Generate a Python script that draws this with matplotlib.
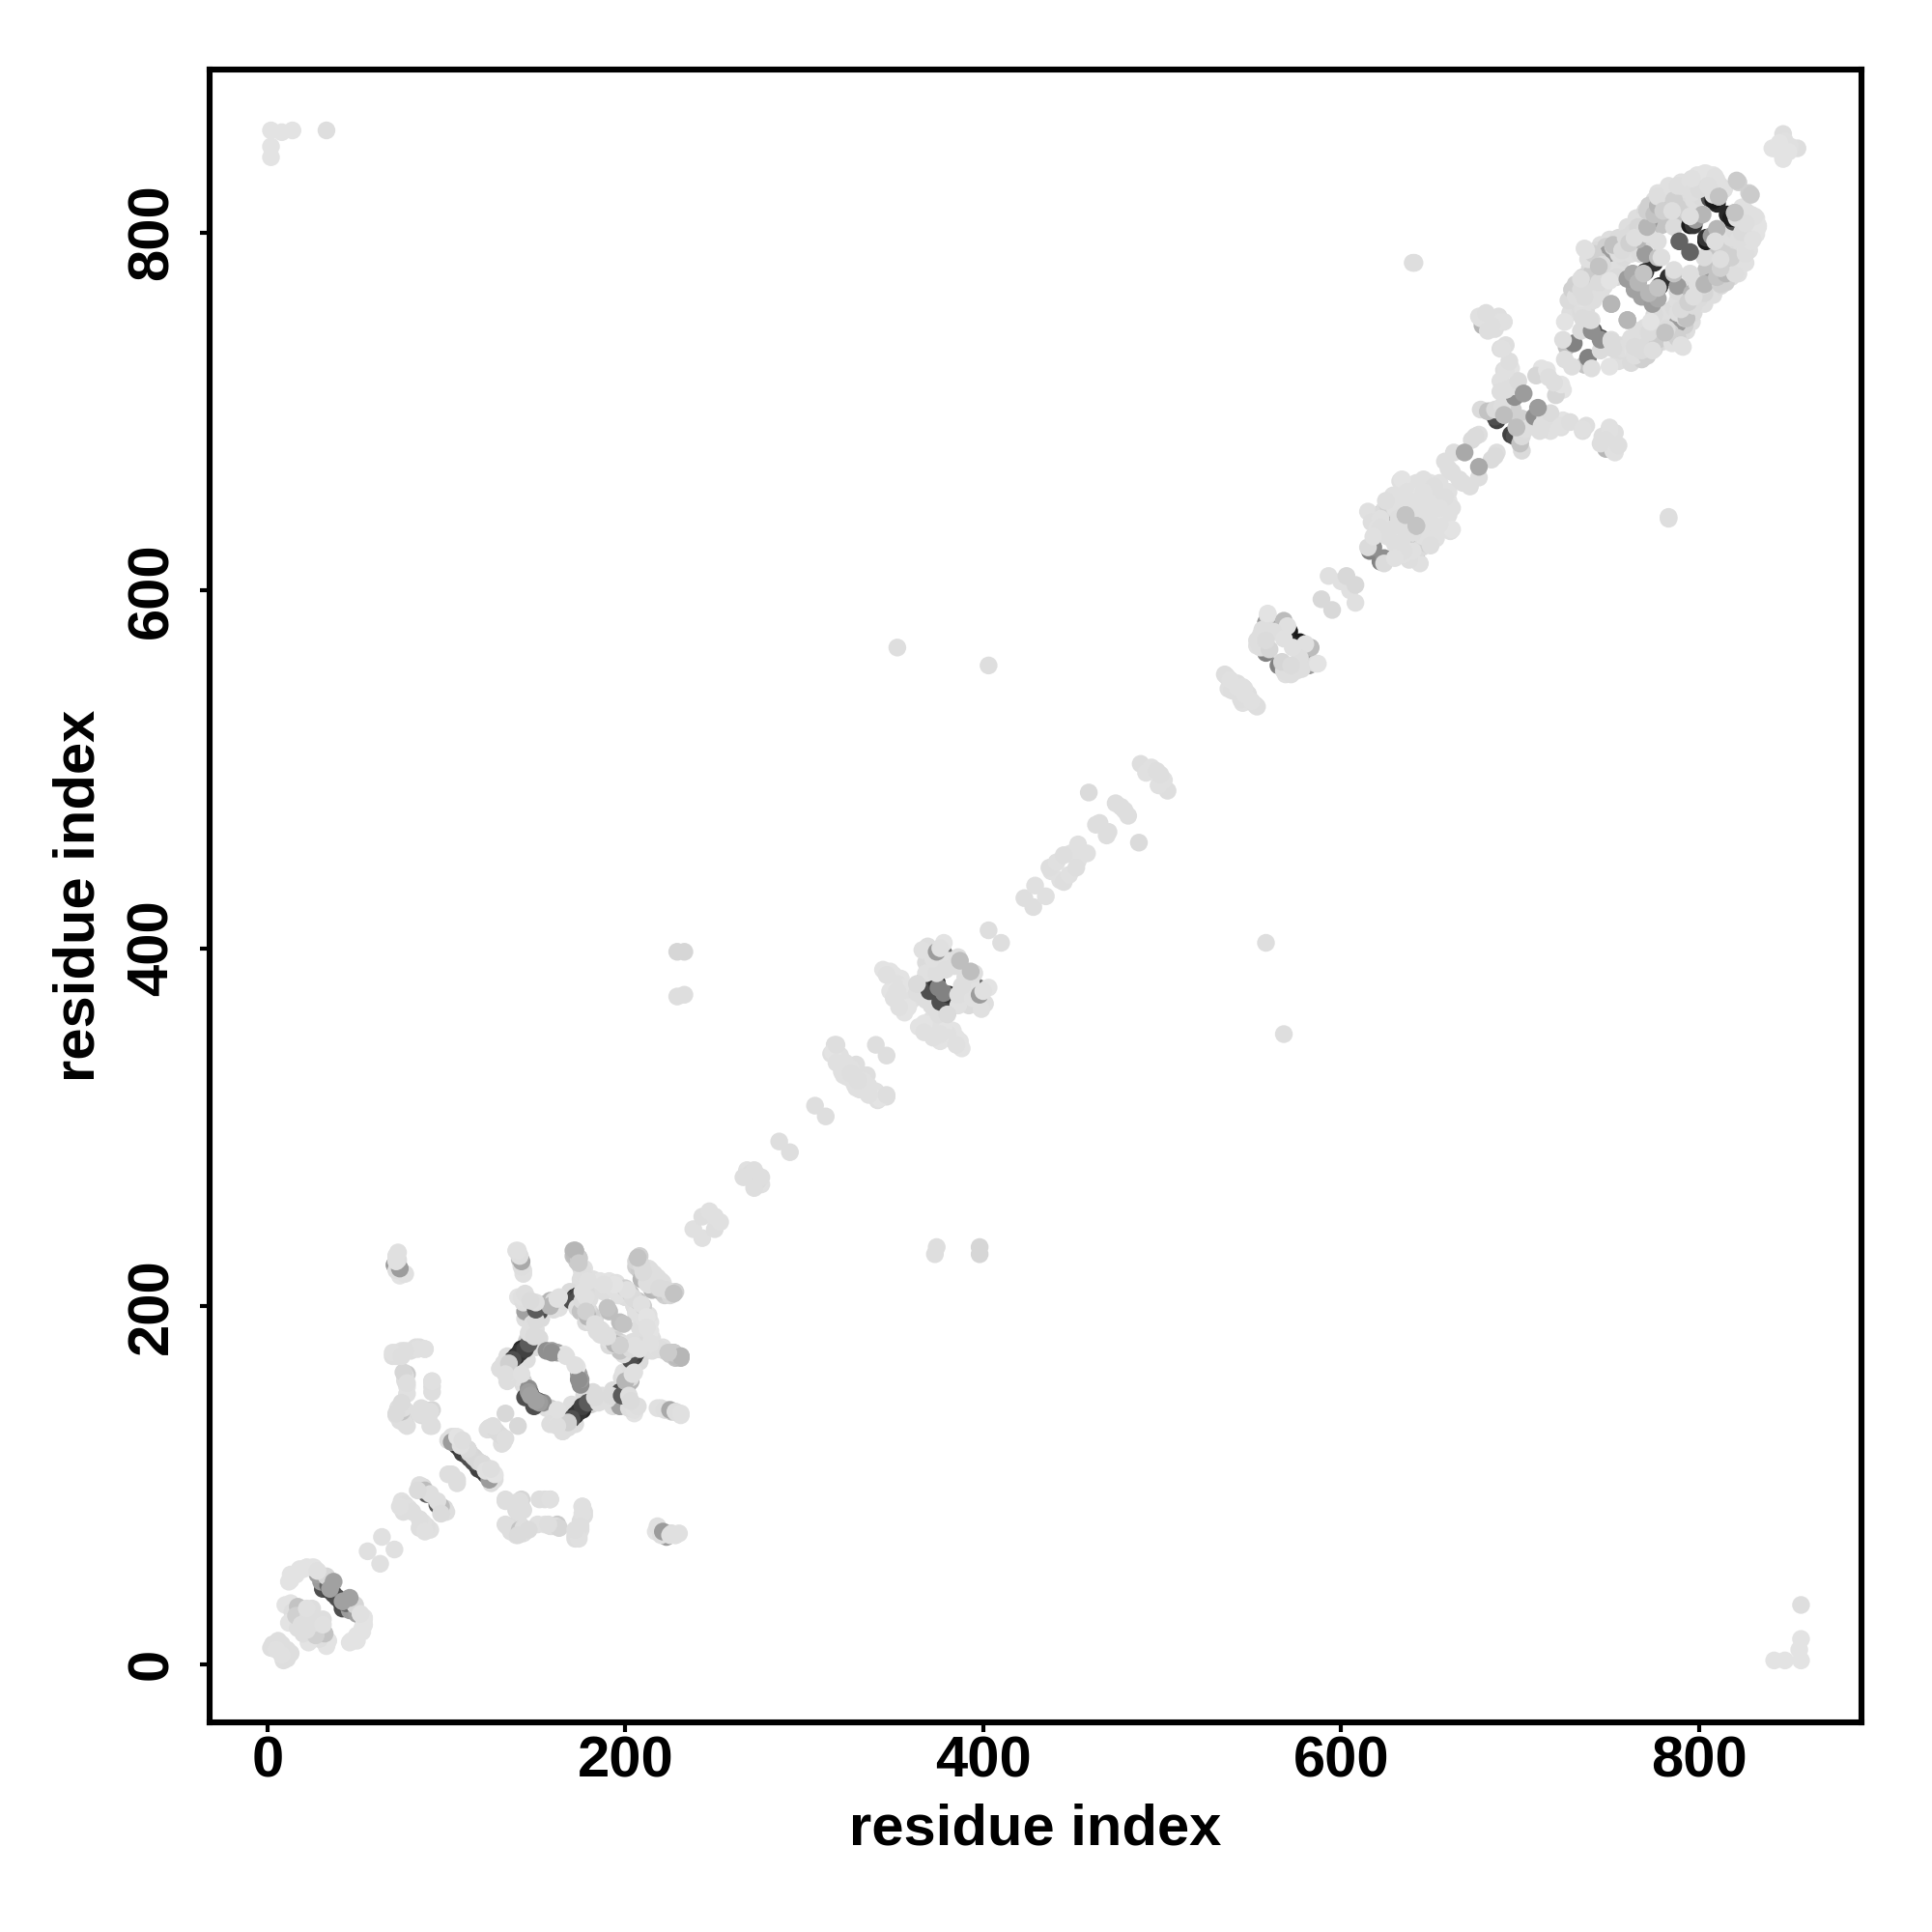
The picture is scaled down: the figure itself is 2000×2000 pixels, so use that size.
import matplotlib
matplotlib.use("Agg")
import matplotlib.pyplot as plt
import numpy as np

# contacts as (residue i, residue j, grey), the map is symmetric
# list order is drawing order, darker discs go first so they show as crescents
corners = [(2, 842, .87), (2, 848, .87), (2, 857, .87), (8, 856, .87), (14, 857, .87), (33, 857, .85)]
outliers = [(352, 568, .85), (403, 558, .85), (641, 783, .85), (640, 783, .85),
            (229, 398, .82), (233, 398, .82), (229, 373, .85), (233, 374, .85)]

n_term = [(2, 9, .85), (6, 13, .85), (3, 11, .85), (8, 11, .85), (5, 8, .86),
          (31, 42, .3), (35, 41, .25), (37, 39, .3), (30, 46, .6), (34, 44, .4), (28, 50, .62),
          (13, 50, .87), (12, 46, .87), (18, 53, .87), (22, 54, .87), (26, 54, .87), (33, 49, .82),
          (37, 46, .62), (42, 35, .62),
          (10, 33, .87), (13, 34, .87), (14, 29, .85), (17, 32, .75), (21, 28, .86), (15, 24, .85),
          (18, 25, .85), (23, 26, .8), (12, 23, .87), (25, 31, .85), (20, 17, .85), (16, 27, .8),
          (19, 22, .85), (27, 23, .85), (22, 31, .86),
          (54, 25, .87), (53, 20, .87), (50, 16, .87), (47, 13, .87), (54, 22, .87), (52, 28, .86),
          (56, 63, .86), (64, 71, .86)]

loop_80 = [(75, 91, .86), (77, 89, .85), (79, 87, .86), (76, 85, .85), (81, 85, .85), (74, 88, .86),
           (89, 95, .35), (87, 99, .84), (85, 100, .85), (88, 97, .72), (91, 95, .85), (84, 97, .84),
           (101, 106, .85), (103, 106, .85),
           (101, 125, .85), (105, 127, .85), (103, 127, .85), (107, 124, .82),
           (106, 122, .25), (108, 120, .2), (109, 118, .25), (103, 124, .6), (111, 117, .25), (113, 115, .3),
           (112, 120, .72), (110, 122, .85),
           (113, 118, .82), (115, 116, .82), (124, 132, .85), (123, 131, .85), (128, 130, .84), (133, 140, .83),
           (126, 133, .85), (118, 113, .83), (120, 112, .84), (122, 108, .86), (127, 106, .87),
           (125, 109, .85)]

side_70 = [(70, 172, .85), (72, 174, .87), (75, 175, .86), (85, 177, .85), (88, 176, .85), (78, 162, .78),
           (80, 175, .85), (72, 172, .85), (83, 177, .85), (77, 159, .84),
           (78, 155, .87), (77, 158, .85), (92, 158, .82), (92, 155, .85), (74, 137, .85),
           (72, 139, .86), (76, 142, .75), (78, 133, .85), (77, 138, .83), (73, 143, .85),
           (88, 142, .85), (92, 142, .82), (92, 133, .85), (90, 139, .85), (86, 139, .84),
           (71, 223, .6), (72, 228, .85), (73, 225, .85), (73, 222, .84), (74, 217, .87), (72, 220, .85),
           (75, 141, .85), (78, 141, .85), (76, 136, .84),
           (133, 91, .85), (141, 91, .85), (141, 88, .85), (138, 90, .85), (152, 92, .85), (158, 92, .86),
           (140, 85, .85), (143, 86, .85),
           (134, 77, .85), (136, 74, .85), (141, 75, .75), (143, 76, .85), (151, 78, .86), (161, 77, .85),
           (163, 76, .82), (176, 88, .86), (176, 84, .86), (173, 73, .85), (175, 77, .85), (140, 72, .84),
           (146, 75, .84), (157, 78, .85), (174, 70, .86), (172, 75, .85),
           (218, 77, .86), (221, 74, .6), (226, 73, .85), (225, 72, .86), (230, 73, .86), (228, 72, .86)]

barrel_fill = [(147, 197, .8), (150, 195, .85), (153, 193, .84), (160, 198, .85), (163, 199, .86),
               (147, 194, .85), (144, 193, .85), (147, 187, .85), (150, 187, .85),
               (145, 181, .85), (148, 180, .85), (152, 182, .84), (136, 168, .85), (134, 172, .85),
               (132, 166, .85), (150, 177, .84), (138, 165, .85), (143, 158, .8),
               (156, 143, .85), (160, 140, .86), (163, 137, .85), (158, 134, .85),
               (165, 130, .85), (162, 134, .86), (170, 145, .85), (175, 142, .84),
               (180, 145, .8), (185, 147, .84), (190, 148, .85), (195, 146, .84), (200, 145, .86),
               (175, 215, .85), (178, 212, .86), (184, 212, .86), (188, 208, .85), (193, 210, .86),
               (197, 206, .86), (200, 205, .85), (205, 200, .85), (206, 196, .86), (210, 197, .86),
               (213, 190, .87), (212, 185, .87), (210, 182, .85), (208, 178, .84), (212, 175, .85),
               (178, 200, .86), (180, 197, .85), (183, 193, .85), (186, 187, .85), (188, 184, .85),
               (192, 183, .84), (195, 181, .8), (198, 179, .84), (204, 180, .85),
               (171, 228, .74), (173, 225, .78), (175, 222, .82), (176, 216, .85),
               (206, 222, .8), (208, 220, .78), (212, 216, .8), (215, 214, .8), (218, 212, .8),
               (222, 209, .78), (225, 208, .78), (214, 219, .85), (169, 208, .84), (166, 203, .85)]

barrel_150 = [(142, 176, .15), (139, 172, .15), (141, 174, .2), (144, 176, .25), (152, 197, .3), (144, 197, .62),
              (172, 205, .2), (170, 203, .3), (174, 206, .3), (146, 179, .35), (137, 170, .3),
              (144, 149, .3), (146, 154, .55), (151, 147, .35), (152, 146, .6), (147, 150, .62),
              (130, 165, .85), (132, 168, .85), (135, 168, .8),
              (133, 162, .85), (142, 162, .86), (155, 201, .7), (158, 203, .7), (160, 203, .84),
              (163, 205, .86), (148, 190, .85), (146, 185, .85), (150, 192, .84), (149, 183, .84),
              (140, 205, .87), (143, 202, .85), (139, 231, .86), (141, 226, .75), (141, 228, .86),
              (143, 220, .86), (142, 223, .86),
              (156, 175, .55), (159, 175, .6), (162, 174, .62), (166, 173, .87),
              (159, 174, .55), (167, 172, .86),
              (171, 231, .7), (172, 228, .72), (174, 226, .75), (177, 221, .86), (176, 218, .86),
              (179, 214, .86), (182, 215, .86), (186, 214, .87), (191, 214, .87), (195, 213, .86)]

barrel_190 = [(201, 176, .2), (206, 174, .25), (203, 173, .3), (198, 150, .35), (200, 158, .7),
              (173, 199, .85), (175, 197, .75), (178, 197, .75), (180, 194, .8), (182, 190, .86),
              (178, 191, .84), (184, 186, .85), (176, 203, .84), (178, 205, .86),
              (191, 181, .86), (194, 179, .7), (197, 178, .8), (190, 183, .85),
              (200, 210, .8), (203, 207, .75), (205, 204, .84), (209, 201, .86), (212, 194, .87),
              (176, 208, .86), (188, 212, .86),
              (202, 150, .85), (204, 162, .86), (205, 142, .86), (207, 144, .85), (203, 147, .84),
              (208, 228, .8), (206, 225, .82), (209, 215, .7), (210, 218, .75), (213, 221, .86),
              (216, 218, .85), (207, 227, .8), (213, 212, .85), (220, 214, .85), (219, 210, .84),
              (223, 209, .84), (227, 207, .75),
              (176, 219, .85), (174, 227, .75), (172, 231, .72), (179, 214, .86),
              (219, 176, .85), (227, 174, .78), (231, 172, .7), (214, 179, .86), (224, 174, .78),
              (218, 143, .86), (222, 142, .85), (225, 142, .65), (228, 141, .85), (231, 140, .86)]

middle = [(238, 243, .86), (243, 250, .85), (247, 253, .86), (250, 250, .86), (268, 276, .86), (270, 274, .84),
          (272, 276, .85), (266, 272, .85), (286, 292, .85), (306, 312, .85),
          (315, 341, .86), (317, 346, .85), (320, 340, .86), (322, 329, .86), (324, 328, .86), (329, 335, .85),
          (316, 342, .87), (318, 346, .85), (318, 336, .86), (321, 331, .86), (340, 346, .85),
          (320, 335, .86), (323, 336, .86), (326, 333, .86), (326, 330, .85),
          (344, 388, .87), (348, 387, .87), (350, 385, .87), (354, 383, .87), (352, 380, .86),
          (356, 378, .87), (354, 371, .87), (360, 371, .86), (356, 364, .87), (350, 380, .86), (348, 376, .87),
          (346, 385, .86), (352, 376, .86), (358, 367, .87), (350, 372, .86), (353, 367, .86),
          (371, 390, .85), (373, 392, .85), (376, 393, .85), (368, 392, .84), (363, 375, .85), (368, 371, .85),
          (381, 394, .4), (378, 397, .45), (366, 381, .7), (371, 378, .15), (373, 379, .15), (370, 376, .3),
          (374, 381, .2), (375, 378, .5), (369, 401, .85), (366, 399, .86), (378, 403, .87), (368, 386, .86),
          (374, 386, .85), (377, 388, .85), (381, 393, .86), (372, 394, .86), (374, 398, .6), (376, 400, .86),
          (379, 388, .85), (384, 390, .85), (363, 380, .84), (386, 395, .85),
          (403, 410, .85), (423, 428, .85), (429, 435, .86), (438, 443, .86), (437, 445, .85),
          (441, 448, .86), (449, 453, .86), (453, 458, .86), (445, 452, .85), (459, 487, .84),
          (463, 469, .85), (465, 470, .85), (474, 481, .85), (477, 479, .85), (488, 503, .85),
          (491, 498, .86), (494, 501, .86), (497, 499, .85)]

block_570 = [(535, 553, .85), (537, 545, .86), (540, 548, .86), (539, 544, .85), (542, 548, .85), (536, 552, .85),
             (542, 546, .86), (538, 550, .86), (545, 546, .86), (555, 575, .86), (553, 569, .86),
             (570, 575, .1), (571, 577, .1), (569, 574, .15), (558, 565, .5), (559, 567, .6),
             (558, 582, .6), (566, 581, .6), (559, 586, .85), (556, 578, .85), (553, 572, .85),
             (555, 568, .85), (560, 567, .82), (568, 583, .72), (570, 580, .86), (559, 587, .87),
             (562, 577, .85), (568, 573, .86), (558, 572, .84),
             (589, 595, .83), (593, 608, .86), (600, 605, .86), (603, 608, .83)]

block_640 = [(630, 650, .87), (635, 655, .87), (650, 660, .87), (655, 660, .86), (648, 656, .87),
             (621, 642, .4), (624, 641, .5), (616, 622, .5), (618, 624, .55),
             (615, 624, .84), (615, 644, .86), (617, 638, .85), (620, 635, .86), (624, 645, .84),
             (624, 633, .84), (627, 634, .85), (626, 648, .8), (634, 645, .85), (635, 641, .85),
             (622, 640, .86), (630, 646, .86), (633, 661, .86), (640, 651, .86),
             (642, 660, .86), (646, 662, .86), (651, 651, .86), (652, 658, .85), (634, 662, .87),
             (642, 653, .86), (637, 655, .86), (629, 653, .86), (645, 654, .87),
             (640, 645, .86), (632, 640, .85), (622, 635, .85), (626, 630, .85),
             (618, 630, .86), (643, 648, .86), (648, 650, .86), (646, 655, .86), (638, 650, .86),
             (636, 642, .75), (625, 650, .85), (633, 636, .85),
             (658, 672, .85), (660, 668, .85), (663, 677, .85), (662, 666, .85),
             (673, 684, .84), (677, 687, .85), (675, 686, .84)]

stem_700 = [(683, 700, .8), (694, 700, .8), (678, 701, .84),
            (687, 695, .25), (694, 706, .2), (692, 703, .25), (686, 697, .3),
            (682, 700, .75), (691, 698, .73), (696, 701, .8), (686, 701, .84),
            (690, 703, .85), (697, 708, .55),
            (677, 753, .86), (679, 748, .7), (684, 749, .8), (682, 752, .86), (688, 753, .85),
            (691, 750, .86), (686, 746, .85), (689, 735, .85), (692, 737, .85), (691, 723, .85),
            (695, 724, .87), (689, 717, .86), (689, 711, .85), (692, 712, .85),
            (712, 724, .87), (709, 720, .82), (715, 723, .87), (716, 719, .85),
            (696, 714, .85), (699, 717, .84), (692, 723, .86), (694, 728, .85), (690, 735, .86),
            (689, 750, .86), (684, 748, .85), (678, 752, .86), (681, 755, .85), (682, 745, .85)]

fill_790 = [(728, 755, .85), (730, 758, .85), (727, 762, .84), (729, 768, .8), (733, 760, .84), (733, 770, .8),
            (736, 770, .82), (738, 772, .83), (741, 768, .84), (743, 775, .84), (745, 766, .85), (747, 770, .85),
            (737, 755, .84), (738, 760, .84), (734, 756, .84), (741, 762, .85),
            (757, 778, .84), (755, 781, .85), (750, 782, .85),
            (746, 788, .85), (752, 785, .85), (758, 786, .84), (762, 788, .85),
            (745, 793, .85), (750, 796, .85), (755, 797, .84), (760, 803, .85), (765, 808, .85),
            (770, 812, .84), (775, 818, .85), (780, 822, .85), (783, 826, .86), (790, 828, .86), (800, 828, .85),
            (805, 829, .86), (792, 820, .84), (788, 814, .8), (783, 808, .78), (779, 804, .75),
            (790, 810, .75), (793, 812, .8),
            (739, 780, .84), (742, 781, .82), (748, 778, .85), (754, 775, .84), (743, 790, .84), (748, 792, .8),
            (760, 790, .85), (766, 792, .82), (770, 795, .84), (786, 803, .84),
            (767, 788, .84), (752, 789, .84), (757, 793, .85),
            (797, 818, .85), (801, 820, .84), (812, 826, .85), (806, 830, .86), (814, 824, .86), (807, 825, .84),
            (796, 826, .86), (791, 824, .85), (786, 821, .84), (803, 833, .87), (799, 832, .87), (808, 832, .87)]

block_790 = [(741, 745, .35), (739, 746, .4), (726, 736, .75), (730, 738, .5), (770, 778, .2), (775, 783, .18),
             (795, 804, .1), (797, 804, .2), (806, 819, .3), (810, 816, .15), (808, 818, .1),
             (772, 806, .6), (749, 788, .6), (770, 788, .6), (766, 796, .7), (798, 807, .6),
             (725, 750, .87), (724, 740, .85), (725, 729, .85), (735, 757, .85), (737, 749, .8), (739, 750, .86),
             (734, 745, .84), (740, 745, .55), (735, 752, .84), (740, 751, .85),
             (734, 763, .86), (731, 764, .85), (736, 764, .84), (731, 771, .8), (734, 768, .84),
             (735, 775, .82), (740, 777, .78), (744, 772, .84), (750, 773, .87), (736, 791, .86),
             (738, 785, .86), (741, 788, .8), (744, 784, .8), (746, 782, .84), (751, 760, .7),
             (734, 774, .85), (744, 781, .75), (752, 792, .8), (755, 788, .85), (737, 790, .86),
             (752, 793, .74), (757, 790, .84), (759, 797, .84), (763, 800, .84), (761, 794, .8),
             (768, 806, .85), (766, 803, .82), (770, 802, .84),
             (764, 768, .62), (760, 774, .6), (763, 777, .65), (766, 772, .7), (769, 777, .75),
             (764, 797, .85), (771, 799, .85), (771, 803, .7), (771, 812, .8), (777, 817, .7),
             (777, 822, .86), (777, 786, .75), (777, 795, .85), (779, 786, .85),
             (772, 815, .8), (775, 810, .75), (777, 815, .7), (777, 820, .85), (780, 812, .8),
             (785, 824, .86), (786, 818, .8), (790, 826, .86), (788, 826, .85), (785, 812, .85),
             (795, 829, .86), (800, 830, .87), (803, 831, .87), (810, 829, .86), (796, 822, .85),
             (800, 824, .84), (802, 810, .7), (795, 809, .85),
             (811, 820, .75), (808, 821, .85), (804, 833, .87), (809, 831, .86), (796, 830, .86),
             (805, 826, .85), (822, 828, .8), (821, 829, .78),
             (842, 847, .87), (847, 855, .85), (841, 847, .87), (851, 848, .86), (845, 850, .87)]

# discs that sit on top of their neighbours in the picture
top_discs = [(789, 795, .38), (702, 710, .6), (669, 677, .65), (387, 393, .73), (751, 760, .7), (191, 197, .73),
             (199, 190, .75), (739, 751, .84), (811, 820, .75),
             (636, 642, .75), (691, 698, .73)]

regions = [corners, outliers, n_term, loop_80, side_70, barrel_fill, barrel_150, barrel_190,
           middle, block_570, block_640, stem_700, fill_790, block_790, top_discs]

contacts = np.array([c for r in regions for c in r])
res_i, res_j, shade = contacts[:, 0], contacts[:, 1], contacts[:, 2]

plt.rcParams["font.family"] = ["Liberation Sans", "DejaVu Sans"]
plt.rcParams["font.weight"] = "bold"

fig = plt.figure(figsize=(10, 10), dpi=200, facecolor="white")
ax = fig.add_axes([0.1084, 0.1087, 0.8553, 0.8553])

# each contact and its mirror are drawn one after the other
ax.scatter(np.column_stack([res_i, res_j]).ravel(), np.column_stack([res_j, res_i]).ravel(),
           c=np.repeat(shade, 2), cmap="gray", vmin=0, vmax=0.98, s=44, linewidths=0)

ax.set_xlim(-32.4, 891)
ax.set_ylim(-32.4, 891)
ax.set_xticks([0, 200, 400, 600, 800])
ax.set_yticks([0, 200, 400, 600, 800])
ax.tick_params(axis="x", length=3.6, width=1.5, labelsize=21.5, pad=1.4)
ax.tick_params(axis="y", length=3.6, width=1.5, labelsize=21.5, pad=7.8)
for lab in ax.get_yticklabels():
    lab.set_rotation(90)
    lab.set_va("center")
for s in ax.spines.values():
    s.set_linewidth(2.2)

ax.set_xlabel("residue index", fontsize=21.5, fontweight="bold", labelpad=5.3)
ax.set_ylabel("residue index", fontsize=21.5, fontweight="bold", labelpad=7.6)

fig.savefig("out.png", dpi=200, facecolor="white")
